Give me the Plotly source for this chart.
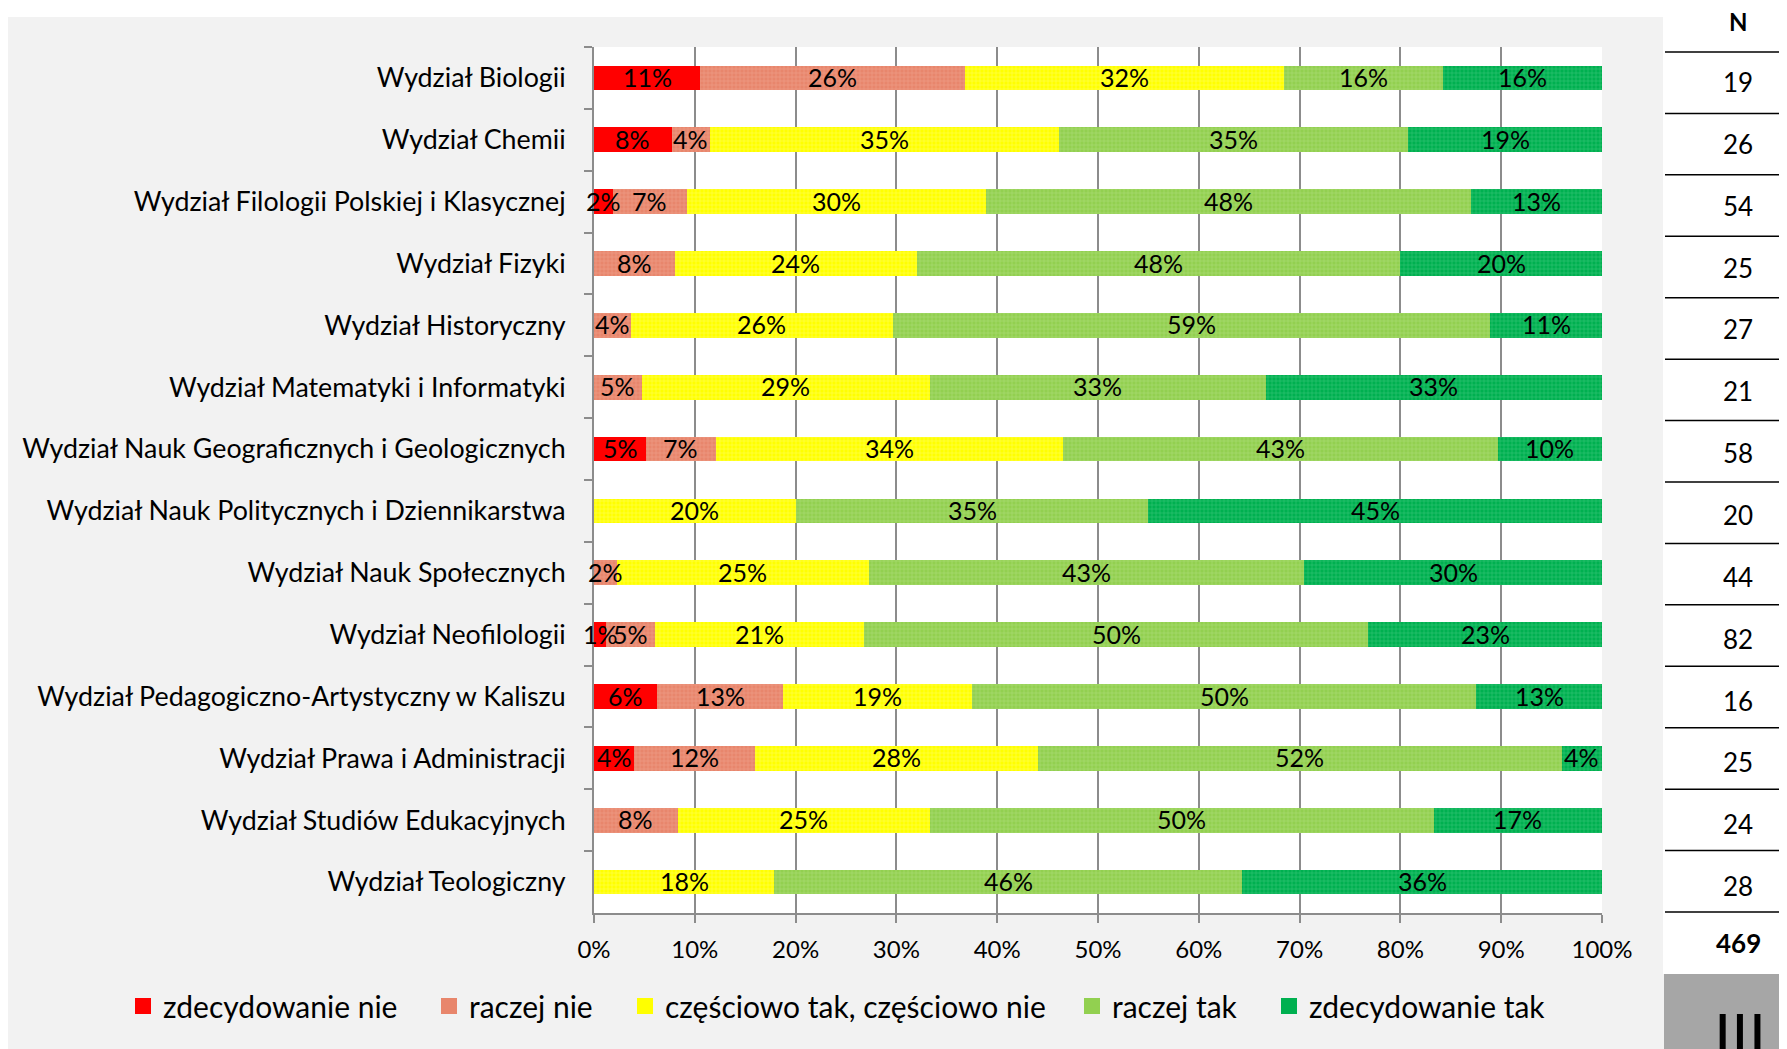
import plotly.graph_objects as go

# Faculties (top to bottom) and sample sizes
faculties = [
    "Wydział Biologii",
    "Wydział Chemii",
    "Wydział Filologii Polskiej i Klasycznej",
    "Wydział Fizyki",
    "Wydział Historyczny",
    "Wydział Matematyki i Informatyki",
    "Wydział Nauk Geograficznych i Geologicznych",
    "Wydział Nauk Politycznych i Dziennikarstwa",
    "Wydział Nauk Społecznych",
    "Wydział Neofilologii",
    "Wydział Pedagogiczno-Artystyczny w Kaliszu",
    "Wydział Prawa i Administracji",
    "Wydział Studiów Edukacyjnych",
    "Wydział Teologiczny",
]
n_counts = [19, 26, 54, 25, 27, 21, 58, 20, 44, 82, 16, 25, 24, 28]
n_total = 469

# Percent shares per answer
zdecydowanie_nie = [10.53, 7.69, 1.85, 0, 0, 0, 5.17, 0, 0, 1.22, 6.25, 4, 0, 0]
raczej_nie = [26.32, 3.85, 7.41, 8, 3.70, 4.76, 6.90, 0, 2.27, 4.88, 12.5, 12, 8.33, 0]
czesciowo = [31.58, 34.62, 29.63, 24, 25.93, 28.57, 34.48, 20, 25.00, 20.73, 18.75, 28, 25, 17.86]
raczej_tak = [15.79, 34.62, 48.15, 48, 59.26, 33.33, 43.10, 35, 43.18, 50.00, 50, 52, 50, 46.43]
zdecydowanie_tak = [15.79, 19.23, 12.96, 20, 11.11, 33.33, 10.34, 45, 29.55, 23.17, 12.5, 4, 16.67, 35.71]

series_names = ["zdecydowanie nie", "raczej nie", "częściowo tak, częściowo nie",
                "raczej tak", "zdecydowanie tak"]
series_values = [zdecydowanie_nie, raczej_nie, czesciowo, raczej_tak, zdecydowanie_tak]
x_ticks = list(range(0, 101, 10))
x_ticktext = [f"{v}%" for v in x_ticks]

FONT = "Lato"
base_colors = ["#ff0000", "#e8866c", "#ffff00", "#92d050", "#00b050"]
light_colors = [None, "#f4b8a8", "#ffffb0", "#c4e8a0", "#70d8a0"]
# legend left edges in page pixels
legend_px = [123, 429, 625, 1072, 1269]

# page offset of the figure (body margin)
OFF = 8
FIG_W, FIG_H = 1787 - OFF, 1049 - OFF

# plot area in page pixels
L, R, T, B = 594, 1602, 47, 913
W, H = R - L, B - T


def px_x(p):
    return (p - L) / W


def px_y(p):
    return (B - p) / H


fig = go.Figure()
annotations = []

starts = [0.0] * len(faculties)
for i, (name, vals) in enumerate(zip(series_names, series_values)):
    xs = [v if v > 0 else None for v in vals]
    marker = dict(color=base_colors[i], line=dict(width=0))
    if light_colors[i]:
        marker["pattern"] = dict(shape="+", size=4, solidity=0.25,
                                 fgcolor=light_colors[i], bgcolor=base_colors[i],
                                 fillmode="overlay")
    fig.add_trace(go.Bar(
        y=faculties,
        x=xs,
        orientation="h",
        name=name,
        marker=marker,
        showlegend=False,
        hovertemplate="%{y}<br>" + name + ": %{x:.1f}%<extra></extra>",
    ))
    # legend entry with a bigger square
    fig.add_trace(go.Scatter(
        x=[None], y=[None], mode="markers", name=name,
        marker=dict(symbol="square", size=17, color=base_colors[i]),
        legend="legend" if i == 0 else f"legend{i + 1}",
        showlegend=True,
    ))
    # data labels, centred on each segment, drawn above all bars
    for j, v in enumerate(vals):
        if v > 0:
            annotations.append(dict(
                text=f"{int(v + 0.5)}%", xref="x", yref="y",
                x=starts[j] + v / 2, y=faculties[j], yshift=1,
                xanchor="center", yanchor="middle", showarrow=False,
                font=dict(color="black", size=25, family=FONT),
            ))
        starts[j] += v

# Background panels
shapes = [
    dict(type="rect", xref="paper", yref="paper", x0=px_x(0), x1=px_x(1800),
         y0=px_y(17), y1=px_y(0), fillcolor="white", line_width=0, layer="below"),
    dict(type="rect", xref="paper", yref="paper", x0=px_x(1663), x1=px_x(1800),
         y0=px_y(974), y1=px_y(0), fillcolor="white", line_width=0, layer="below"),
    dict(type="rect", xref="paper", yref="paper", x0=px_x(1664), x1=px_x(1800),
         y0=px_y(1060), y1=px_y(974), fillcolor="#a6a6a6", line_width=0, layer="below"),
]
# Table lines for N column
n_lines = len(faculties) + 1
for k in range(n_lines):
    yp = 52 + k * (912 - 52) / (n_lines - 1)
    shapes.append(dict(type="line", xref="paper", yref="paper",
                       x0=px_x(1665), x1=px_x(1800), y0=px_y(yp), y1=px_y(yp),
                       line=dict(color="black", width=1.5)))

annotations += [
    dict(text="<b>N</b>", xref="paper", yref="paper", x=px_x(1738), y=px_y(21),
         xanchor="center", yanchor="middle", showarrow=False,
         font=dict(size=24, family=FONT, color="black")),
    dict(text=f"<b>{n_total}</b>", xref="paper", yref="paper", x=px_x(1738), y=px_y(943),
         xanchor="center", yanchor="middle", showarrow=False,
         font=dict(size=26, family=FONT, color="black")),
    dict(text="III", xref="paper", yref="paper", x=px_x(1740), y=px_y(996),
         xanchor="center", yanchor="top", showarrow=False,
         font=dict(size=62, family=FONT, color="black")),
]
for fac, n in zip(faculties, n_counts):
    annotations.append(dict(text=str(n), xref="paper", yref="y", x=px_x(1738), y=fac,
                            xanchor="center", yanchor="middle", yshift=-4,
                            showarrow=False,
                            font=dict(size=26, family=FONT, color="black")))

layout_legends = {}
for i, lx in enumerate(legend_px):
    key = "legend" if i == 0 else f"legend{i + 1}"
    layout_legends[key] = dict(
        x=px_x(lx), xanchor="left", y=px_y(1006), yanchor="middle",
        orientation="h", bgcolor="rgba(0,0,0,0)", itemsizing="trace",
        font=dict(size=30, family=FONT, color="black"),
    )

fig.update_layout(
    barmode="stack",
    bargap=0.6,
    width=FIG_W,
    height=FIG_H,
    margin=dict(l=L - OFF, r=FIG_W - (R - OFF), t=T - OFF, b=FIG_H - (B - OFF), pad=0),
    paper_bgcolor="#f2f2f2",
    plot_bgcolor="white",
    font=dict(family=FONT, size=24, color="black"),
    showlegend=True,
    shapes=shapes,
    annotations=annotations,
    **layout_legends,
)

fig.update_xaxes(
    range=[0, 100],
    tickmode="array",
    tickvals=x_ticks,
    ticktext=x_ticktext,
    showgrid=True,
    gridcolor="#8c8c8c",
    gridwidth=2,
    zeroline=False,
    showline=True,
    linecolor="#8c8c8c",
    linewidth=2,
    ticks="outside",
    ticklen=8,
    tickwidth=2,
    tickcolor="#8c8c8c",
    tickfont=dict(size=24, family=FONT, color="black"),
    ticklabelstandoff=6,
    fixedrange=True,
)
fig.update_yaxes(
    type="category",
    categoryorder="array",
    categoryarray=faculties,
    range=[len(faculties) - 0.5, -0.5],
    tickson="boundaries",
    showgrid=False,
    showline=True,
    linecolor="#8c8c8c",
    linewidth=2,
    ticks="outside",
    ticklen=8,
    tickwidth=2,
    tickcolor="#8c8c8c",
    tickfont=dict(size=26.8, family=FONT, color="black"),
    ticklabelstandoff=21,
    fixedrange=True,
)

fig.write_html("out.html")
